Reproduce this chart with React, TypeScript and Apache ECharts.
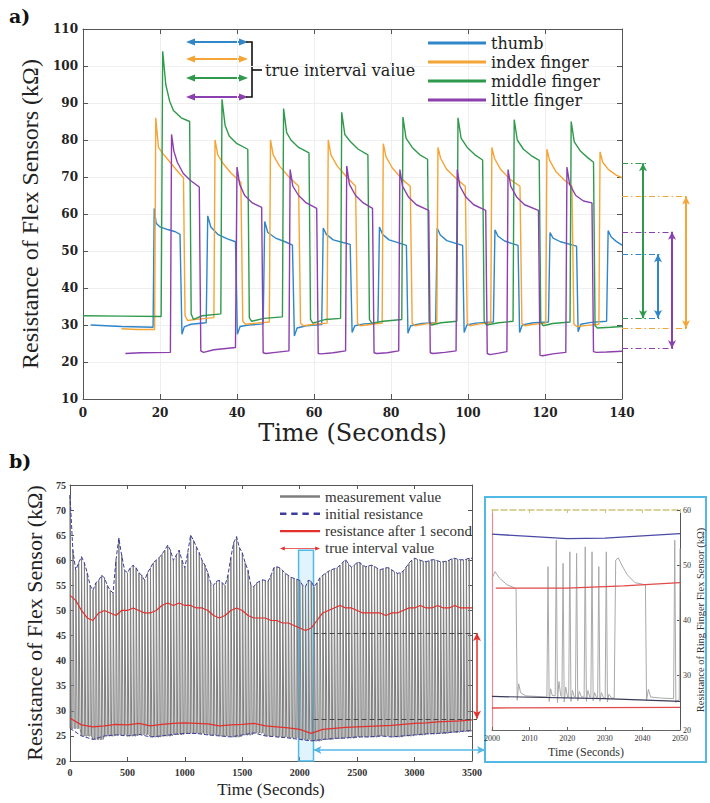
import React, { useEffect, useRef } from "react";
import * as echarts from "echarts";

// ---------- Panel a: finger flex-sensor resistance (time s, kΩ) ----------
const thumbData = [
  [2, 30], [10, 29.6], [18.2, 29.4], [18.5, 61.5], [19, 57.5], [20, 56.5], [22, 55.8], [24, 55.2], [25.2, 54.5], [25.7, 27.5], [26.3, 29.5], [28, 30.2], [32, 30.6],
  [32.4, 59.5], [33.2, 56.5], [35, 54.5], [37.5, 53.3], [39.6, 52.5], [40.1, 27.5], [40.8, 29.6], [43, 30], [46.8, 30.3],
  [47.2, 58], [48, 55], [50, 53.5], [52.5, 52.5], [54.4, 51.6], [54.9, 27], [55.6, 29.2], [58, 29.8], [62, 30.1],
  [62.4, 56.2], [63.2, 54.5], [65, 53], [67.5, 52.3], [69.4, 51.8], [69.9, 28], [70.6, 29.8], [73, 30.3], [76.6, 30.5],
  [77, 56.5], [77.8, 54.5], [79.5, 53], [82, 52.2], [84, 51.5], [84.4, 27.8], [85.1, 29.8], [88, 30.4], [91.6, 30.6],
  [92, 56.2], [92.8, 54.3], [94.5, 52.8], [97, 52], [98.6, 51.5], [99, 28], [99.7, 30], [102, 30.5], [106.6, 30.8],
  [107, 55.7], [107.8, 54], [109.5, 52.7], [111.5, 52], [113, 51.5], [113.4, 28], [114.1, 30], [117, 30.6], [120.9, 30.8],
  [121.3, 55], [122.1, 53.5], [124, 52.5], [126.5, 51.8], [128.2, 51.3], [128.6, 28.2], [129.3, 30.2], [132, 30.7], [136, 31],
  [136.4, 55.5], [137.2, 53.8], [138.5, 52.6], [140, 51.6],
];
const indexData = [
  [10, 29], [14, 28.8], [18.6, 28.8], [18.9, 86], [19.6, 78], [21, 76], [23, 73.5], [25, 71], [26.1, 69.8], [26.5, 32.5], [27.2, 31.2], [30, 31.6], [34, 32],
  [34.3, 80], [35, 76], [36.5, 73.5], [38.5, 71], [41, 68.5], [41.5, 31], [42.2, 30.2], [45, 30.5], [48.4, 30.8],
  [48.7, 80], [49.4, 76], [51, 73], [53.5, 70], [56, 67.5], [56.5, 30.5], [57.2, 29.8], [60, 30.2], [63.4, 30.5],
  [63.7, 80], [64.4, 76], [66, 73], [68.5, 70], [70.8, 67.5], [71.3, 30.5], [72, 29.8], [75, 30.2], [77.7, 30.5],
  [78, 79], [78.7, 75.5], [80.3, 72.5], [82.8, 69.5], [85, 67.5], [85.5, 30.5], [86.2, 29.8], [89, 30.3], [91.9, 30.6],
  [92.2, 78], [92.9, 75], [94.5, 72], [97, 69.5], [99.3, 67.5], [99.8, 30.5], [100.5, 29.8], [103, 30.3], [105.9, 30.6],
  [106.2, 78], [106.9, 75], [108.5, 72], [111, 69.3], [113.5, 67.5], [114, 30.5], [114.7, 29.8], [117, 30.2], [120.2, 30.5],
  [120.5, 77.5], [121.2, 74.5], [122.8, 71.5], [125, 69.2], [127, 67.5], [127.5, 30.3], [128.2, 29.6], [131, 29.9], [134, 30.2],
  [134.3, 76.8], [135, 74], [136.5, 72], [138.5, 70.5], [140, 69.8],
];
const middleData = [
  [0, 32.5], [10, 32.4], [20.3, 32.3], [20.7, 104], [21.5, 95], [22.5, 90.5], [23.5, 88], [25.5, 86], [27.7, 85], [28.1, 33], [28.7, 31.5], [31, 32.5], [35.8, 33],
  [36.1, 91], [36.9, 84], [38, 81], [40, 79], [42.8, 77.5], [43.2, 32], [43.8, 31], [47, 31.8], [51.8, 32.2],
  [52.1, 88.5], [52.9, 82], [54, 80], [56, 78], [58.7, 76.5], [59.1, 31.5], [59.7, 30.5], [63, 31.5], [66.9, 31.8],
  [67.2, 87.5], [68, 81.5], [69.5, 79.5], [71.5, 77.5], [74, 76], [74.4, 31.5], [75, 30.5], [78, 31], [82.8, 31.5],
  [83.1, 86.2], [83.9, 80.5], [85.5, 78], [87.5, 76], [89.5, 74.8], [89.9, 31], [90.5, 30], [93, 30.6], [97.1, 31],
  [97.4, 86], [98.2, 80.5], [99.8, 78], [101.8, 76], [103.8, 74.6], [104.2, 31], [104.8, 30], [108, 30.6], [111.7, 31],
  [112, 85.5], [112.8, 80], [114.4, 77.5], [116.4, 75.8], [118.5, 74.5], [118.9, 30.8], [119.5, 29.8], [122, 30.4], [126.5, 30.8],
  [126.8, 85], [127.6, 79.5], [129.2, 77], [131, 75.3], [132.6, 74], [133, 29.8], [133.6, 29.2], [137, 29.4], [140, 29.6],
];
const littleData = [
  [11, 22.3], [15, 22.5], [22.7, 22.6], [23, 81.5], [23.6, 77], [24.5, 74], [26, 71], [28, 69], [30.2, 67.3], [30.6, 23], [31.3, 22.6], [34, 23.3], [39.6, 23.9],
  [40, 72.7], [40.7, 68], [42, 65], [44, 63], [46.4, 61.8], [46.8, 22.5], [47.5, 22.3], [50, 22.6], [53.5, 23],
  [53.8, 72], [54.5, 67.5], [56, 65], [58, 63], [60.7, 61.5], [61.1, 22.3], [61.8, 22.2], [65, 22.5], [68.2, 23],
  [68.5, 73], [69.2, 68], [70.8, 65], [72.8, 63], [75.2, 61.5], [75.6, 22.5], [76.3, 22.3], [79, 22.5], [82, 23],
  [82.3, 72], [83, 67.5], [84.6, 64.5], [86.6, 62.5], [89.8, 61], [90.2, 22.5], [90.9, 22.3], [94, 22.6], [96.9, 23],
  [97.2, 72], [97.9, 67.5], [99.5, 64.5], [101.5, 62.5], [104.6, 61], [105, 22.3], [105.7, 22], [108, 22.4], [110.1, 22.8],
  [110.4, 72], [111.1, 67.5], [112.7, 64.5], [114.7, 62.5], [118.3, 61], [118.7, 21.8], [119.4, 21.7], [122, 22.2], [125.4, 22.6],
  [125.7, 72.7], [126.4, 68], [128, 65], [130, 63.5], [132.2, 63], [132.6, 22.8], [133.3, 22.6], [136, 22.7], [140, 22.9],
];
// true interval bounds (kΩ): thumb, index, middle, little
const intervalTop = [49.1, 64.7, 73.7, 55.2];
const intervalBottom = [31.9, 29.1, 31.8, 23.7];

// ---------- Panel b: long run (time s, kΩ) ----------
const initialUpperStep = 25;
const initialUpper = [
  73, 62, 58, 59.5, 60.7, 59.5, 57.5, 55, 54, 55.5,
  56, 57, 56.5, 55, 54, 53.5, 60, 64.4, 61, 58,
  57.5, 58.5, 59, 58.5, 57.5, 57, 56, 57.5, 58.5, 59.5,
  60, 60.5, 61.2, 62, 63, 62, 60, 61, 62, 60,
  58.5, 61.5, 65, 64, 62.7, 61.5, 60, 59, 57.5, 55.5,
  55, 55.8, 56, 55.5, 55, 57, 60.5, 63.5, 64.7, 62.5,
  61.5, 59.5, 58, 55, 54.7, 55.5, 55.8, 56.1, 56, 55.8,
  57, 58.5, 58.7, 58.5, 58, 57.4, 57, 56.6, 56.4, 56.2,
  56, 55, 54.7, 56, 55.8, 54.7, 55.5, 56.5, 57, 57.4,
  57.8, 58.1, 58.3, 58.5, 59, 59.6, 60.1, 59.3, 58.6, 59,
  59.6, 59.5, 59, 58.7, 58.9, 59, 58.8, 58.4, 58.1, 58.3,
  58.5, 58.5, 58.1, 57.7, 57.4, 57.5, 57.8, 58.6, 59.4, 60,
  60.4, 60.2, 60, 59.8, 59.7, 59.9, 60.1, 60.1, 59.9, 59.7,
  59.7, 59.8, 60, 60.3, 60.4, 60.2, 60.1, 60.1, 60.2, 60.4,
  60.4,
];
const afterUpperStep = 50;
const afterUpper = [
  53, 52, 50, 48.5, 48, 49.5, 50, 49.5, 49, 50,
  50, 50.5, 50, 49.5, 49.5, 50, 51, 51.5, 51, 51.5,
  51, 51, 50.5, 50.5, 50, 49, 48.5, 49, 50, 50.5,
  50, 49, 48.5, 48.5, 48.5, 48, 48, 47.5, 47.5, 47,
  46.5, 46, 46.5, 48, 49.5, 50, 50.5, 51, 50.5, 50.5,
  50, 49.5, 49.5, 49.5, 49.5, 49, 49.5, 49.5, 50, 50.5,
  50.5, 51, 50.5, 50.5, 51, 50.5, 50.5, 51, 50.5, 50.5,
  50.5,
];
const lowerStep = 100;
const initialLower = [
  26.5, 25, 24.3, 25, 25.2, 25, 25.3, 24.8, 25, 25.3,
  25.5, 25.5, 25.2, 25, 24.8, 25.2, 25.6, 25, 24.8, 24.6,
  24.3, 24, 24.3, 24.5, 24.6, 24.8, 24.8, 25, 24.8, 25,
  25.2, 25.4, 25.5, 25.7, 25.9, 26.1,
];
const afterLower = [
  28.5, 27.2, 26.8, 27, 27.3, 27.2, 27.5, 27, 27.3, 27.5,
  27.6, 27.5, 27.4, 27, 27.2, 27.3, 27.5, 27, 26.8, 26.6,
  26.3, 25.5, 26.3, 26.5, 26.7, 26.8, 26.9, 27, 27.1, 27.3,
  27.5, 27.6, 27.8, 27.9, 28, 28.2,
];
const bInterval = [45.5, 28.4]; // true interval (kΩ)
const zoomWindow = [1990, 2120]; // seconds shown in inset
const zoomTop = 62;

// ---------- Inset: ring finger 2000–2050 s ----------
const insetMeasure = [
  [2000, 47.5], [2000.8, 48.8], [2002, 47.6], [2004, 46.4], [2005.8, 45.9], [2006.4, 45.6], [2006.7, 25.4], [2007.1, 28.4], [2007.6, 26.8], [2009, 26.2], [2012, 26.1], [2014.6, 26],
  [2014.9, 49.7], [2015.2, 25.2], [2015.6, 27.5], [2016, 26.3], [2016.8, 26.2],
  [2017.1, 54.5], [2017.4, 25], [2017.8, 28.8], [2018.3, 26.2], [2018.6, 26.1],
  [2018.9, 50.3], [2019.2, 25.1], [2019.6, 27.8], [2020.1, 26], [2020.4, 26],
  [2020.7, 52.4], [2021, 25.2], [2021.4, 27.2], [2021.9, 26], [2022.2, 26],
  [2022.5, 52.1], [2022.8, 25.3], [2023.2, 27], [2023.8, 26], [2024.5, 26],
  [2024.8, 53.3], [2025.1, 25.2], [2025.5, 27.2], [2026, 26], [2026.3, 26],
  [2026.6, 52.4], [2026.9, 25.3], [2027.3, 26.8], [2027.8, 25.9], [2028.1, 25.9],
  [2028.4, 49.7], [2028.7, 25.2], [2029.1, 26.8], [2029.7, 25.8], [2030.1, 25.8],
  [2030.4, 52.4], [2030.7, 25.1], [2031.1, 26.5], [2031.8, 25.8], [2032.5, 25.8],
  [2032.9, 50.9], [2033.6, 51.3], [2034.5, 50], [2036, 48.2], [2038, 46.8], [2040.8, 46.4], [2041.1, 25.4], [2041.6, 27.4], [2042.2, 26], [2045, 25.8], [2048.3, 25.7],
  [2048.6, 54.5], [2048.9, 25], [2049.4, 25.4], [2049.8, 25.5], [2050, 53],
];
const insetInitialUpper = [[2000, 55.6], [2010, 55.2], [2020, 54.8], [2030, 54.9], [2040, 55.3], [2050, 55.7]];
const insetInitialLower = [[2000, 26.1], [2030, 25.7], [2050, 25.2]];
const insetAfterUpper = [[2001, 45.8], [2020, 45.8], [2035, 46.2], [2050, 46.8]];
const insetAfterLower = [[2000, 24], [2050, 24.1]];

const C = {
  thumb: "#2f86c8",
  index: "#f5a535",
  middle: "#2f9a4c",
  little: "#8c3fae",
  gray: "#7f7f7f",
  initial: "#3d3d9e",
  after: "#e2302c",
  cyan: "#52b8e6",
};
const WIDE = "DejaVu Serif";
const SERIF = "Liberation Serif";
const ICON_LINE = "path://M0,0H100V5H0Z";
const ICON_LINE_B = "path://M0,0H100V6H0Z";
const ICON_DASH = "path://M0,0H16V6H0Z M28,0H44V6H28Z M56,0H72V6H56Z M84,0H100V6H84Z";
const ICON_ARROW = "path://M0,5L12,0L12,4L88,4L88,0L100,5L88,10L88,6L12,6L12,10Z";

function buildOption() {
  const fingerColors = [C.thumb, C.index, C.middle, C.little];
  const arrowX = [36, 64, 21, 50];

  // one measured pulse per sample: rise to the initial resistance, back down to the baseline
  const measurement: number[][] = [];
  for (let i = 0; i < initialUpper.length - 1; i++) {
    const t = i * initialUpperStep;
    const low = initialLower[Math.floor(t / lowerStep)];
    measurement.push([t, low], [t + 0.5, initialUpper[i]], [t + 12.5, low]);
  }
  measurement.push([3500, initialLower[initialLower.length - 1]]);

  const axisLineA = { show: true, onZero: false, lineStyle: { color: "#555", width: 1 } };
  const tickIn = { show: true, inside: true, length: 5, lineStyle: { color: "#555" } };
  const bScale = 640 / 402;
  const plain = (v: number) => String(v);

  const intervalSeries = fingerColors.map((color, i) => ({
    type: "line",
    name: "iv" + i,
    xAxisIndex: 2,
    yAxisIndex: 2,
    data: [],
    silent: true,
    markLine: {
      silent: true,
      symbol: ["none", "none"],
      label: { show: false },
      lineStyle: { color, width: 1.2, type: [6, 3, 1.5, 3] },
      data: [
        [{ coord: [0, intervalTop[i]] }, { coord: [arrowX[i] + 3, intervalTop[i]] }],
        [{ coord: [0, intervalBottom[i]] }, { coord: [arrowX[i] + 3, intervalBottom[i]] }],
        [
          { coord: [arrowX[i], intervalTop[i]], symbol: "arrow", symbolSize: [6, 8], lineStyle: { type: "solid", width: 2, color } },
          { coord: [arrowX[i], intervalBottom[i]], symbol: "arrow", symbolSize: [6, 8] },
        ],
      ],
    },
  }));

  const arrowRows = [42, 59, 78, 97];
  const arrowGraphics: any[] = [];
  arrowRows.forEach((y, i) => {
    const color = fingerColors[i];
    arrowGraphics.push(
      { type: "line", shape: { x1: 190, y1: y, x2: 244, y2: y }, style: { stroke: color, lineWidth: 2.2 } },
      { type: "polygon", shape: { points: [[186, y], [195, y - 3.5], [195, y + 3.5]] }, style: { fill: color } },
      { type: "polygon", shape: { points: [[248, y], [239, y - 3.5], [239, y + 3.5]] }, style: { fill: color } }
    );
  });

  return {
    animation: false,
    backgroundColor: "#fff",
    grid: [
      { left: 83, top: 29, width: 539, height: 370 },
      { left: 622, top: 29, width: 80, height: 370 },
      { left: 70, top: 485, width: 402, height: 276 },
      { left: 70, top: 485, width: 640, height: 276 },
      { left: 492, top: 510, width: 188, height: 220 },
    ],
    legend: [
      {
        data: [
          { name: "thumb", icon: ICON_LINE },
          { name: "index finger", icon: ICON_LINE },
          { name: "middle finger", icon: ICON_LINE },
          { name: "little finger", icon: ICON_LINE },
        ],
        orient: "vertical",
        left: 423,
        top: 30,
        itemWidth: 58,
        itemHeight: 16,
        itemGap: 3,
        selectedMode: false,
        textStyle: { fontFamily: WIDE, fontSize: 16, color: "#222" },
      },
      {
        data: [
          { name: "measurement value", icon: ICON_LINE_B },
          { name: "initial resistance", icon: ICON_DASH },
          { name: "resistance after 1 second", icon: ICON_LINE_B },
          { name: "true interval value", icon: ICON_ARROW },
        ],
        orient: "vertical",
        left: 275,
        top: 484,
        itemWidth: 40,
        itemHeight: 15,
        itemGap: 2.3,
        selectedMode: false,
        textStyle: { fontFamily: SERIF, fontSize: 15, color: "#333" },
      },
    ],
    xAxis: [
      {
        gridIndex: 0, type: "value", min: 0, max: 140, interval: 20, position: "bottom",
        axisLine: axisLineA, axisTick: tickIn,
        axisLabel: { margin: 8, fontFamily: WIDE, fontWeight: "bold", fontSize: 12, color: "#222" },
        splitLine: { show: true, lineStyle: { color: "#efefef" } },
        name: "Time (Seconds)", nameLocation: "middle", nameGap: 22,
        nameTextStyle: { fontFamily: WIDE, fontSize: 24, color: "#222" },
      },
      {
        gridIndex: 0, type: "value", min: 0, max: 140, interval: 20, position: "top",
        axisLine: axisLineA, axisTick: tickIn, axisLabel: { show: false }, splitLine: { show: false },
      },
      { gridIndex: 1, type: "value", min: 0, max: 80, show: false },
      {
        gridIndex: 2, type: "value", min: 0, max: 3500, interval: 500, position: "bottom",
        axisLine: axisLineA, axisTick: { ...tickIn, length: 4 },
        axisLabel: { margin: 6, fontFamily: SERIF, fontWeight: "bold", fontSize: 10, color: "#333", formatter: plain },
        splitLine: { show: false },
        name: "Time (Seconds)", nameLocation: "middle", nameGap: 20,
        nameTextStyle: { fontFamily: SERIF, fontSize: 17, color: "#222" },
      },
      {
        gridIndex: 2, type: "value", min: 0, max: 3500, interval: 500, position: "top",
        axisLine: axisLineA, axisTick: { ...tickIn, length: 4 }, axisLabel: { show: false }, splitLine: { show: false },
      },
      { gridIndex: 3, type: "value", min: 0, max: 3500 * bScale, show: false },
      {
        gridIndex: 4, type: "value", min: 2000, max: 2050, interval: 10, position: "bottom",
        axisLine: { show: true, onZero: false, lineStyle: { color: "#666" } },
        axisTick: { show: true, inside: true, length: 3, lineStyle: { color: "#666" } },
        axisLabel: { margin: 4, fontFamily: SERIF, fontSize: 8, color: "#333", formatter: plain },
        splitLine: { show: false },
        name: "Time (Seconds)", nameLocation: "middle", nameGap: 16,
        nameTextStyle: { fontFamily: SERIF, fontSize: 12, color: "#333" },
      },
      {
        gridIndex: 4, type: "value", min: 2000, max: 2050, interval: 10, position: "top",
        axisLine: { show: true, onZero: false, lineStyle: { color: "#cfc47a", type: "dashed", width: 1.5 } },
        axisTick: { show: true, inside: true, length: 3, lineStyle: { color: "#cfc47a" } },
        axisLabel: { show: false }, splitLine: { show: false },
      },
    ],
    yAxis: [
      {
        gridIndex: 0, type: "value", min: 10, max: 110, interval: 10, position: "left",
        axisLine: axisLineA, axisTick: tickIn,
        axisLabel: { margin: 5, fontFamily: WIDE, fontWeight: "bold", fontSize: 12, color: "#222" },
        splitLine: { show: true, lineStyle: { color: "#efefef" } },
        name: "Resistance of Flex Sensors (kΩ)", nameLocation: "middle", nameGap: 29, nameRotate: 90,
        nameTextStyle: { fontFamily: SERIF, fontSize: 24, color: "#222" },
      },
      {
        gridIndex: 0, type: "value", min: 10, max: 110, interval: 10, position: "right",
        axisLine: axisLineA, axisTick: tickIn, axisLabel: { show: false }, splitLine: { show: false },
      },
      { gridIndex: 1, type: "value", min: 10, max: 110, show: false },
      {
        gridIndex: 2, type: "value", min: 20, max: 75, interval: 5, position: "left",
        axisLine: axisLineA, axisTick: { ...tickIn, length: 4 },
        axisLabel: { margin: 4, fontFamily: SERIF, fontWeight: "bold", fontSize: 10, color: "#333" },
        splitLine: { show: false },
        name: "Resistance of Flex Sensor (kΩ)", nameLocation: "middle", nameGap: 19, nameRotate: 90,
        nameTextStyle: { fontFamily: SERIF, fontSize: 22, color: "#222" },
      },
      {
        gridIndex: 2, type: "value", min: 20, max: 75, interval: 5, position: "right",
        axisLine: axisLineA, axisTick: { ...tickIn, length: 4 }, axisLabel: { show: false }, splitLine: { show: false },
      },
      { gridIndex: 3, type: "value", min: 20, max: 75, show: false },
      {
        gridIndex: 4, type: "value", min: 20, max: 60, interval: 10, position: "right",
        axisLine: { show: true, onZero: false, lineStyle: { color: "#555" } },
        axisTick: { show: true, inside: true, length: 3, lineStyle: { color: "#555" } },
        axisLabel: { margin: 3, fontFamily: SERIF, fontSize: 8, color: "#333" },
        splitLine: { show: false },
        name: "Resistance of Ring Finger Flex Sensor (kΩ)", nameLocation: "middle", nameGap: 14, nameRotate: 90,
        nameTextStyle: { fontFamily: SERIF, fontSize: 10.5, color: "#333" },
      },
      {
        gridIndex: 4, type: "value", min: 20, max: 60, interval: 10, position: "left",
        axisLine: { show: true, onZero: false, lineStyle: { color: "#e88a9a", width: 1.2 } },
        axisTick: { show: false }, axisLabel: { show: false }, splitLine: { show: false },
      },
    ],
    series: [
      // panel a
      { name: "thumb", type: "line", xAxisIndex: 0, yAxisIndex: 0, data: thumbData, symbol: "none", color: C.thumb, lineStyle: { width: 1.4 } },
      { name: "index finger", type: "line", xAxisIndex: 0, yAxisIndex: 0, data: indexData, symbol: "none", color: C.index, lineStyle: { width: 1.4 } },
      { name: "middle finger", type: "line", xAxisIndex: 0, yAxisIndex: 0, data: middleData, symbol: "none", color: C.middle, lineStyle: { width: 1.4 } },
      { name: "little finger", type: "line", xAxisIndex: 0, yAxisIndex: 0, data: littleData, symbol: "none", color: C.little, lineStyle: { width: 1.4 } },
      ...intervalSeries,
      // panel b
      {
        name: "measurement value", type: "line", xAxisIndex: 3, yAxisIndex: 3, data: measurement,
        symbol: "none", color: C.gray, lineStyle: { width: 1 }, z: 1,
      },
      {
        name: "initial resistance", type: "line", xAxisIndex: 3, yAxisIndex: 3,
        data: initialUpper.map((v, i) => [i * initialUpperStep, v]),
        symbol: "none", color: C.initial, lineStyle: { width: 1, type: [4, 2] }, z: 3,
      },
      {
        name: "initial resistance", type: "line", xAxisIndex: 3, yAxisIndex: 3,
        data: initialLower.map((v, i) => [i * lowerStep, v]),
        symbol: "none", color: C.initial, lineStyle: { width: 1, type: [4, 2] }, z: 3,
      },
      {
        name: "resistance after 1 second", type: "line", xAxisIndex: 3, yAxisIndex: 3,
        data: afterUpper.map((v, i) => [i * afterUpperStep, v]),
        symbol: "none", color: C.after, lineStyle: { width: 1.2 }, z: 3,
      },
      {
        name: "resistance after 1 second", type: "line", xAxisIndex: 3, yAxisIndex: 3,
        data: afterLower.map((v, i) => [i * lowerStep, v]),
        symbol: "none", color: C.after, lineStyle: { width: 1.2 }, z: 3,
      },
      {
        name: "zoom window", type: "line", xAxisIndex: 3, yAxisIndex: 3, data: [], silent: true, z: 4,
        markArea: {
          silent: true,
          itemStyle: { color: "rgba(120,200,240,0.22)", borderColor: C.cyan, borderWidth: 1.5 },
          data: [[{ coord: [zoomWindow[0], 20] }, { coord: [zoomWindow[1], zoomTop] }]],
        },
      },
      {
        name: "true interval value", type: "line", xAxisIndex: 5, yAxisIndex: 5, data: [], silent: true, color: C.after, z: 5,
        markLine: {
          silent: true,
          symbol: ["none", "none"],
          label: { show: false },
          lineStyle: { color: "#444", width: 1, type: [5, 3] },
          data: [
            [{ coord: [zoomWindow[1], bInterval[0]] }, { coord: [3543, bInterval[0]] }],
            [{ coord: [zoomWindow[1], bInterval[1]] }, { coord: [3543, bInterval[1]] }],
            [
              { coord: [3543, bInterval[0]], symbol: "arrow", symbolSize: [6, 8], lineStyle: { color: C.after, width: 1.5, type: "solid" } },
              { coord: [3543, bInterval[1]], symbol: "arrow", symbolSize: [6, 8] },
            ],
            [
              { coord: [zoomWindow[1], 22.2], symbol: "arrow", symbolSize: [6, 8], lineStyle: { color: C.cyan, width: 1.5, type: "solid" } },
              { coord: [3613, 22.2], symbol: "arrow", symbolSize: [6, 8] },
            ],
          ],
        },
      },
      // inset
      { name: "inset measurement", type: "line", xAxisIndex: 6, yAxisIndex: 6, data: insetMeasure, symbol: "none", color: "#a9a9a9", lineStyle: { width: 1 } },
      { name: "inset initial upper", type: "line", xAxisIndex: 6, yAxisIndex: 6, data: insetInitialUpper, symbol: "none", color: "#4a4aa6", lineStyle: { width: 1.3 } },
      { name: "inset initial lower", type: "line", xAxisIndex: 6, yAxisIndex: 6, data: insetInitialLower, symbol: "none", color: "#3a3a5a", lineStyle: { width: 1.2 } },
      { name: "inset after upper", type: "line", xAxisIndex: 6, yAxisIndex: 6, data: insetAfterUpper, symbol: "none", color: "#e04a4a", lineStyle: { width: 1.2 } },
      { name: "inset after lower", type: "line", xAxisIndex: 6, yAxisIndex: 6, data: insetAfterLower, symbol: "none", color: "#e04a4a", lineStyle: { width: 1.3 } },
    ],
    graphic: [
      { type: "text", x: 9, y: 16, style: { text: "a)", fontFamily: WIDE, fontWeight: "bold", fontSize: 19, fill: "#111", verticalAlign: "middle" } },
      { type: "text", x: 9, y: 461, style: { text: "b)", fontFamily: WIDE, fontWeight: "bold", fontSize: 19, fill: "#111", verticalAlign: "middle" } },
      ...arrowGraphics,
      { type: "polyline", shape: { points: [[246, 42], [252, 42], [252, 97], [246, 97]] }, style: { stroke: "#111", lineWidth: 1.6, fill: "none" } },
      { type: "line", shape: { x1: 252, y1: 70, x2: 262, y2: 70 }, style: { stroke: "#111", lineWidth: 1.6 } },
      { type: "text", x: 265, y: 70, style: { text: "true interval value", fontFamily: WIDE, fontSize: 16, fill: "#222", verticalAlign: "middle" } },
      { type: "rect", shape: { x: 485, y: 497, width: 221, height: 265 }, style: { fill: "none", stroke: C.cyan, lineWidth: 2 } },
    ],
  };
}

export default function App() {
  const ref = useRef<HTMLDivElement>(null);
  useEffect(() => {
    const chart = echarts.init(ref.current!, null, { renderer: "svg" });
    chart.setOption(buildOption() as any);
    return () => chart.dispose();
  }, []);
  return (
    <div
      ref={ref}
      style={{ position: "absolute", left: 0, top: 0, width: 710, height: 803, background: "#fff" }}
    />
  );
}
